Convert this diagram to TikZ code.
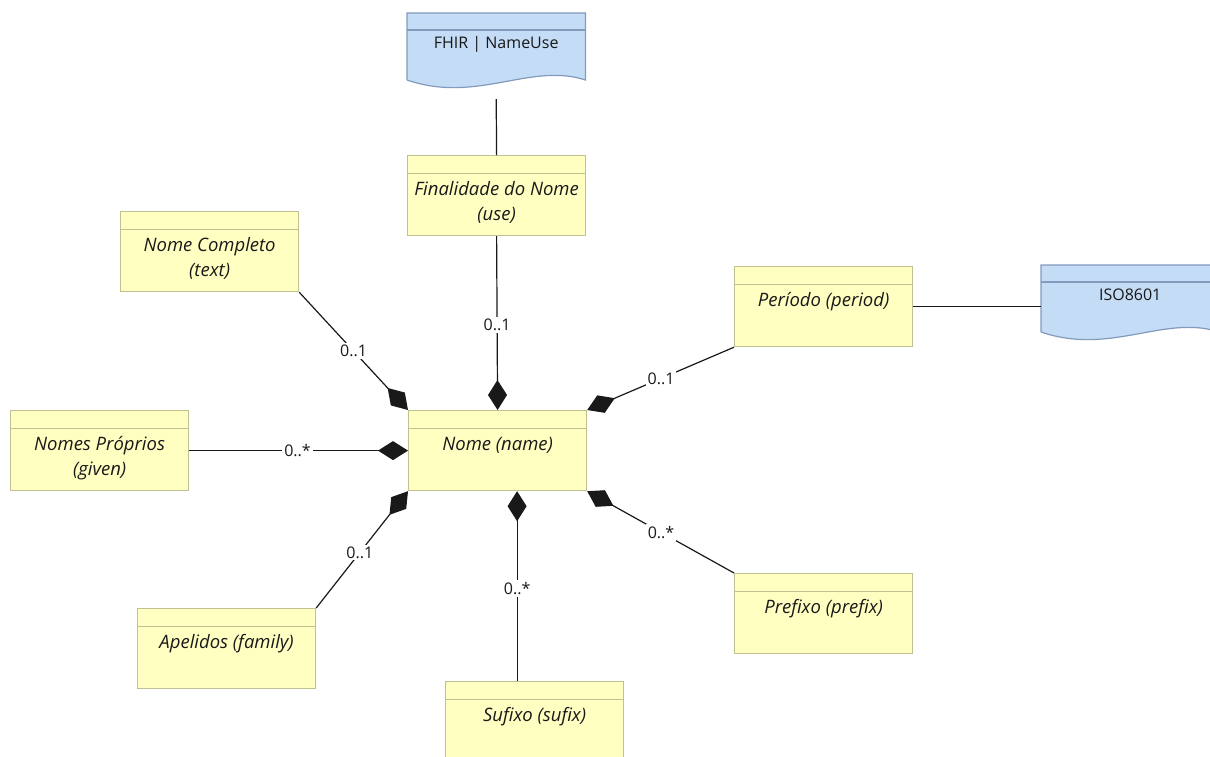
\documentclass[tikz,border=0pt]{standalone}
\usepackage{fontspec}
\setmainfont{Open Sans}
\usetikzlibrary{arrows.meta,calc}
\definecolor{clsfill}{RGB}{255,255,194}
\definecolor{clsdraw}{RGB}{192,192,145}
\definecolor{docfill}{RGB}{196,220,245}
\definecolor{docdraw}{RGB}{130,155,188}
\definecolor{txtcol}{RGB}{25,25,25}
\definecolor{lincol}{RGB}{25,25,25}
\newcommand\clsbox[5]{%
  \node[cls] (#1) at (#2,#3) {};
  \node[ctext] (#1-t) at ($(#1.north)+(0,-#5pt)$) {#4};}
\newcommand\docbox[4]{%
  \node[docnode] (#1) at (#2,#3) {};
  \fill[docfill] (#1.north west) -- (#1.north east) -- ([yshift=-67pt]#1.north east)
     .. controls +(-55pt,18pt) and +(70pt,-24pt) .. ([yshift=-67pt]#1.north west) -- cycle;
  \draw[docdraw,line width=1.2pt] ([yshift=-67pt]#1.north west) -- (#1.north west) -- (#1.north east) -- ([yshift=-67pt]#1.north east)
     .. controls +(-55pt,18pt) and +(70pt,-24pt) .. ([yshift=-67pt]#1.north west);
  \draw[docdraw,line width=1.2pt] ([yshift=-17pt]#1.north west) -- ([yshift=-17pt]#1.north east);
  \node[dtext] (#1-t) at ($(#1.north)+(0,-35pt)$) {#4};}
\begin{document}
\begin{tikzpicture}[x=1pt,y=-1pt,
  cls/.style={draw=clsdraw, fill=clsfill, line width=1.2pt, minimum width=178pt,
    minimum height=80pt, anchor=north west, inner sep=0pt,
    path picture={\draw[clsdraw,line width=1.2pt]
      ([yshift=-18pt]path picture bounding box.north west) --
      ([yshift=-18pt]path picture bounding box.north east);}},
  docnode/.style={minimum width=178pt, minimum height=75pt, anchor=north west, inner sep=0pt},
  ctext/.style={anchor=base, align=center, font=\fontsize{18.5}{25}\selectfont\itshape,
    text=txtcol, inner sep=0pt},
  dtext/.style={anchor=base, font=\fontsize{16}{20}\selectfont, text=txtcol, inner sep=0pt},
  conn/.style={draw=lincol, line width=1.2pt},
  comp/.style={conn, {Diamond[length=30pt,width=19pt]}-},
  lbl/.style={fill=white, inner sep=2pt, font=\fontsize{16}{16}\selectfont, text=txtcol}
]
\useasboundingbox (0,0) rectangle (1210,756);
\fill[white] (0,0) rectangle (1210,756);
\clip (0,0) rectangle (1210,756);

\docbox{fhir}{407}{13}{FHIR | NameUse}
\docbox{iso}{1041}{265}{ISO8601}

\clsbox{fin}{407}{155}{Finalidade do Nome\\(use)}{65}
\clsbox{comp}{120}{211}{Nome Completo\\(text)}{65}
\clsbox{per}{734}{266}{Período (period)}{40}
\clsbox{giv}{10}{410}{Nomes Próprios\\(given)}{65}
\clsbox{nome}{408}{410}{Nome (name)}{40}
\clsbox{ape}{137}{608}{Apelidos (family)}{40}
\clsbox{suf}{445}{681}{Sufixo (sufix)}{40}
\clsbox{pre}{734}{573}{Prefixo (prefix)}{40}

\coordinate (fhirb) at ($(fhir.north)+(0,-86pt)$);
\coordinate (sufx) at ($(nome.south)+(19.5pt,0)$);

\draw[conn] (fhirb) -- (fin.north);
\draw[conn] (per.east) -- (per.east -| iso.west);
\draw[comp] (nome.north) -- node[lbl,pos=0.49] {0..1} (fin.south);
\draw[comp] (nome.north west) -- node[lbl,pos=0.5] {0..1} (comp.south east);
\draw[comp] (nome.west) -- node[lbl,pos=0.505] {0..*} (giv.east);
\draw[comp] (nome.south west) -- node[lbl,pos=0.525] {0..1} (ape.north east);
\draw[comp] (sufx) -- node[lbl,pos=0.513] {0..*} (sufx |- suf.north);
\draw[comp] (nome.south east) -- node[lbl,pos=0.503] {0..*} (pre.north west);
\draw[comp] (nome.north east) -- node[lbl,pos=0.503] {0..1} (per.south west);
\end{tikzpicture}
\end{document}
